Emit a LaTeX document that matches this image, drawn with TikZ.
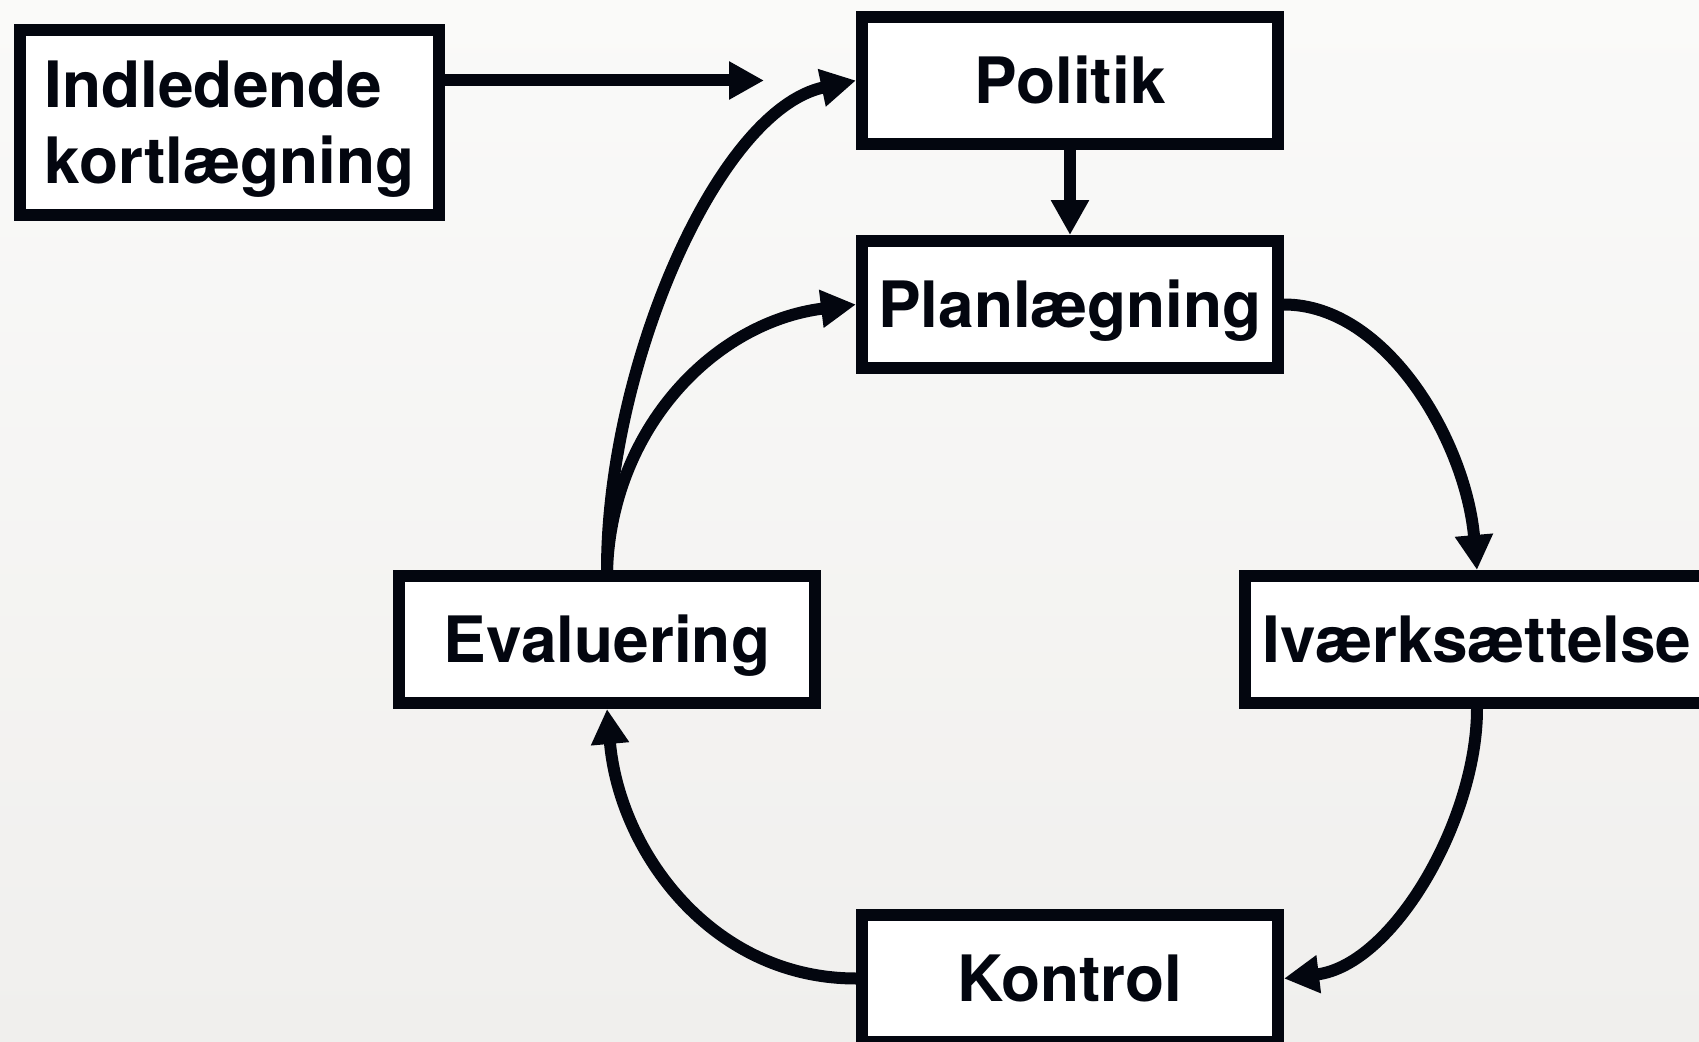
\documentclass[tikz,border=0pt]{standalone}
\usepackage{fontspec}
\setmainfont{TeX Gyre Heros}
\usetikzlibrary{arrows.meta, positioning}

\definecolor{ink}{HTML}{03060F}
\definecolor{bgtop}{HTML}{FAFAF9}
\definecolor{bgbot}{HTML}{F0EFED}

\begin{document}
\begin{tikzpicture}[
  frame/.style={draw=ink, line width=0.12cm, fill=white, text=ink, font=\fontsize{18.2}{21.6}\selectfont\bfseries},
  box/.style={frame, minimum width=4.16cm, minimum height=1.27cm, text height=0.46cm, text depth=0pt},
  arrow/.style={-{Triangle[length=0.35cm, width=0.36cm]}, line width=0.12cm, draw=ink}
]
\useasboundingbox (0,0) rectangle (16.99,-10.42);
\clip (0,0) rectangle (16.99,-10.42);
\shade[top color=bgtop, bottom color=bgbot] (0,0) rectangle (16.99,-10.42);

\node[frame, align=left, text depth=0pt, minimum width=4.19cm, minimum height=1.85cm] (intro) at (2.295,-1.225) {Indledende\\kortlægning};
\node[box] (pol) at (10.70,-0.805) {Politik};
\node[box, below=0.85cm of pol] (plan) {Planlægning};
\node[box] (evalu) at (6.07,-6.395) {Evaluering};
\node[box, right=4.18cm of evalu, minimum width=4.64cm] (ivaerk) {Iværksættelse};
\node[box] (kontrol) at (10.70,-9.785) {Kontrol};
\coordinate[left=0.92cm of pol.west] (halt);

\draw[arrow] (intro.east |- halt) -- (halt);
\draw[arrow] (evalu.north) to[out=90, in=192, out looseness=0.95, in looseness=0.66] (pol.west);
\draw[arrow] (evalu.north) to[out=88, in=187] (plan.west);
\draw[arrow] (pol) -- (plan);
\draw[arrow] (plan.east) to[out=0, in=95, out looseness=0.8] (ivaerk.north);
\draw[arrow] (ivaerk.south) to[out=-90, in=7, looseness=0.85] (kontrol.east);
\draw[arrow] (kontrol.west) to[out=180, in=-85] (evalu.south);
\end{tikzpicture}
\end{document}
